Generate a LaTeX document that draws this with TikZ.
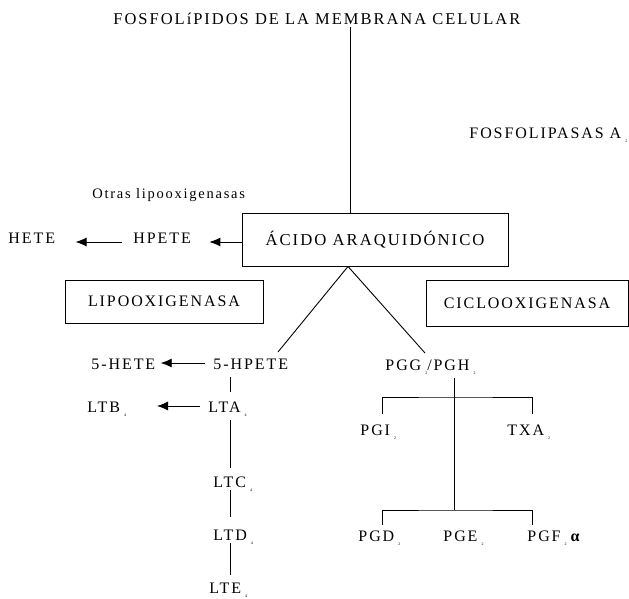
\documentclass[tikz,border=0pt]{standalone}
\usepackage{fontspec}
\setmainfont{Liberation Serif}[LetterSpace=12]
\usetikzlibrary{arrows.meta,calc}
\newcommand\sbs[1]{\hspace{4pt}\raisebox{-4pt}{\fontsize{4}{4}\selectfont #1}}
\begin{document}
\begin{tikzpicture}[x=1pt,y=-1pt,line width=0.9pt,
  lbl/.style={inner sep=0pt,anchor=base west,font=\fontsize{16}{18}\selectfont},
  boxnode/.style={draw,inner sep=0pt,font=\fontsize{16}{18}\selectfont},
  arr/.style={-{Latex[length=11pt,width=9pt]}}]
\useasboundingbox (0,0) rectangle (629,599);
% texts
\node[lbl,font=\fontsize{16.5}{18}\selectfont] (title) at (113,25) {FOSFOLíPIDOS DE LA MEMBRANA CELULAR};
\node[lbl] (fosfo) at (469,139) {FOSFOLIPASAS A\sbs{2}};
\node[lbl,font=\fontsize{14.5}{17}\selectfont] (otras) at (92,198) {Otras lipooxigenasas};
\node[lbl] (hete) at (8,243) {HETE};
\node[lbl] (hpete) at (133,243) {HPETE};
\node[lbl] (hete5) at (91,369) {5-HETE};
\node[lbl] (hpete5) at (213,369) {5-HPETE};
\node[lbl] (ltb) at (87,412) {LTB\sbs{4}};
\node[lbl] (lta) at (208,412) {LTA\sbs{4}};
\node[lbl] (ltc) at (213,487) {LTC\sbs{4}};
\node[lbl] (ltd) at (213,540) {LTD\sbs{4}};
\node[lbl] (lte) at (209,593) {LTE\sbs{4}};
\node[lbl] (pgg) at (385,370) {PGG\sbs{2}/PGH\sbs{2}};
\node[lbl] (pgi) at (360,435) {PGI\sbs{2}};
\node[lbl] (txa) at (507,435) {TXA\sbs{2}};
\node[lbl] (pgd) at (358,541) {PGD\sbs{2}};
\node[lbl] (pge) at (443,541) {PGE\sbs{2}};
\node[lbl] (pgf) at (527,541) {PGF\sbs{2}\hspace{4pt}\textbf{α}};
% boxes
\node[boxnode,font=\fontsize{16.7}{18}\selectfont,minimum width=266pt,minimum height=53pt] (acido) at (375,239.5) {ÁCIDO ARAQUIDÓNICO};
\node[boxnode,minimum width=198pt,minimum height=43pt] (lipo) at (164,301.5) {LIPOOXIGENASA};
\node[boxnode,minimum width=202pt,minimum height=46pt] (ciclo) at (527,303) {CICLOOXIGENASA};
% junction coordinates
\coordinate (tl) at (350,27);
\coordinate (cx) at (230,0);
\coordinate (j1) at (454,397);
\coordinate (j2) at (454,510);
\coordinate (bl) at (382,0);
\coordinate (br) at (532,0);
\coordinate (apex) at ($(acido.south)+(-27,0)$);
% connectors
\draw (tl) -- (tl |- acido.north);
\draw[arr] ($(acido.west)+(0,2.5)$) -- ($(hpete.base east)+(18,-1)$);
\draw[arr] ($(hpete.base west)+(-11,-1)$) -- ($(hete.base east)+(20,-1)$);
\draw (apex) -- ($(hpete5.base west)+(65,-17)$);
\draw (apex) -- ($(pgg.base west)+(40,-17)$);
\draw[arr] ($(hpete5.base west)+(-8,-6)$) -- ($(hete5.base east)+(5,-6)$);
\draw[arr] ($(lta.base west)+(-8,-6)$) -- ($(ltb.base west)+(70,-6)$);
\draw ($(hpete5.base -| cx)+(0,8)$) -- ($(lta.base -| cx)+(0,-20)$);
\draw ($(lta.base -| cx)+(0,8)$) -- ($(ltc.base -| cx)+(0,-19)$);
\draw ($(ltc.base -| cx)+(0,3)$) -- ($(ltd.base -| cx)+(0,-23)$);
\draw ($(ltd.base -| cx)+(0,3)$) -- ($(lte.base -| cx)+(0,-18)$);
\draw ($(pgg.base -| j1)+(0,8)$) -- (j2);
\draw ($(pgi.base -| bl)+(0,-21)$) |- (j1) -| ($(txa.base -| br)+(0,-21)$);
\draw ($(pgd.base -| bl)+(0,-16)$) |- (j2) -| ($(pgf.base -| br)+(0,-16)$);
\end{tikzpicture}
\end{document}
